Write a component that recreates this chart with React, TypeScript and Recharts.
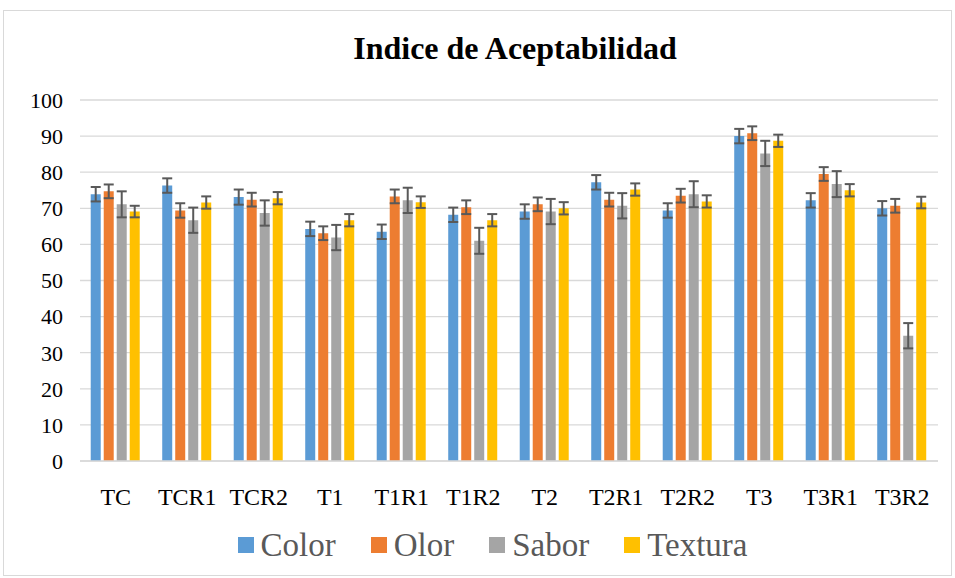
import { BarChart, Bar, XAxis, YAxis, CartesianGrid, Legend, ErrorBar } from "recharts";

const categories = ["TC", "TCR1", "TCR2", "T1", "T1R1", "T1R2", "T2", "T2R1", "T2R2", "T3", "T3R1", "T3R2"];

const color = [73.9, 76.3, 73.1, 64.3, 63.5, 68.2, 69.1, 77.2, 69.4, 90.0, 72.2, 70.0];
const olor = [74.7, 69.4, 72.4, 63.1, 73.3, 70.3, 71.1, 72.4, 73.5, 90.8, 79.5, 70.7];
const sabor = [71.1, 66.7, 68.7, 61.9, 72.2, 61.0, 69.1, 70.7, 73.9, 85.2, 76.7, 34.7];
const textura = [69.1, 71.6, 72.8, 66.7, 71.7, 66.7, 70.0, 75.2, 71.9, 88.7, 75.0, 71.6];

// half-widths of the error bars
const colorErr = [2.0, 2.0, 2.1, 2.0, 2.0, 2.0, 2.0, 2.0, 2.0, 2.0, 2.0, 2.0];
const olorErr = [1.9, 2.0, 1.9, 1.9, 1.9, 1.9, 1.9, 1.9, 1.9, 1.9, 1.9, 1.9];
const saborErr = [3.6, 3.5, 3.5, 3.5, 3.5, 3.6, 3.5, 3.5, 3.6, 3.5, 3.6, 3.5];
const texturaErr = [1.6, 1.7, 1.7, 1.7, 1.6, 1.7, 1.7, 1.7, 1.7, 1.7, 1.7, 1.6];

const yTicks = [0, 10, 20, 30, 40, 50, 60, 70, 80, 90, 100];

const series = [
  { key: "Color", fill: "#5B9BD5" },
  { key: "Olor", fill: "#ED7D31" },
  { key: "Sabor", fill: "#A5A5A5" },
  { key: "Textura", fill: "#FFC000" },
];

const data = categories.map((name, i) => ({
  name,
  Color: color[i],
  Olor: olor[i],
  Sabor: sabor[i],
  Textura: textura[i],
  ColorErr: colorErr[i],
  OlorErr: olorErr[i],
  SaborErr: saborErr[i],
  TexturaErr: texturaErr[i],
}));

const font = "Liberation Serif";

function LegendContent() {
  return (
    <div style={{ display: "flex", justifyContent: "center", alignItems: "center", gap: 35, fontFamily: font, paddingLeft: 30 }}>
      {series.map((s) => (
        <div key={s.key} style={{ display: "flex", alignItems: "center" }}>
          <span style={{ width: 16, height: 16, background: s.fill, marginRight: 7, display: "inline-block" }} />
          <span style={{ fontSize: 33, color: "#595959", lineHeight: "34px" }}>{s.key}</span>
        </div>
      ))}
    </div>
  );
}

export default function App() {
  return (
    <div style={{ position: "absolute", left: 0, top: 0, width: 955, height: 578, background: "#fff" }}>
      <div
        style={{
          position: "absolute",
          left: 3,
          top: 10,
          width: 947,
          height: 564,
          border: "1px solid #D9D9D9",
        }}
      />
      <div
        style={{
          position: "absolute",
          left: 86,
          width: 858,
          top: 30,
          textAlign: "center",
          fontFamily: font,
          fontWeight: "bold",
          fontSize: 32,
          color: "#000",
        }}
      >
        Indice de Aceptabilidad
      </div>
      <BarChart
        width={955}
        height={578}
        data={data}
        margin={{ top: 100, right: 17, bottom: 77, left: 0 }}
        barCategoryGap="15%"
        barGap={3}
      >
        <CartesianGrid vertical={false} stroke="#D9D9D9" strokeWidth={1.3} />
        <XAxis
          dataKey="name"
          height={40}
          axisLine={{ stroke: "#D9D9D9", strokeWidth: 1.3 }}
          tickLine={false}
          tickSize={0}
          tickMargin={27}
          tick={{ fill: "#000", fontSize: 24, fontFamily: font }}
          interval={0}
        />
        <YAxis
          width={80}
          domain={[0, 100]}
          ticks={yTicks}
          axisLine={false}
          tickLine={false}
          tickSize={0}
          tickMargin={17}
          tick={{ fill: "#000", fontSize: 22, fontFamily: font }}
        />
        <Legend
          layout="horizontal"
          verticalAlign="middle"
          align="center"
          wrapperStyle={{ top: 528, left: 0, width: 955 }}
          content={() => <LegendContent />}
        />
        {series.map((s) => (
          <Bar key={s.key} dataKey={s.key} fill={s.fill} isAnimationActive={false}>
            <ErrorBar dataKey={s.key + "Err"} width={5} stroke="#595959" strokeWidth={2} direction="y" />
          </Bar>
        ))}
      </BarChart>
    </div>
  );
}
